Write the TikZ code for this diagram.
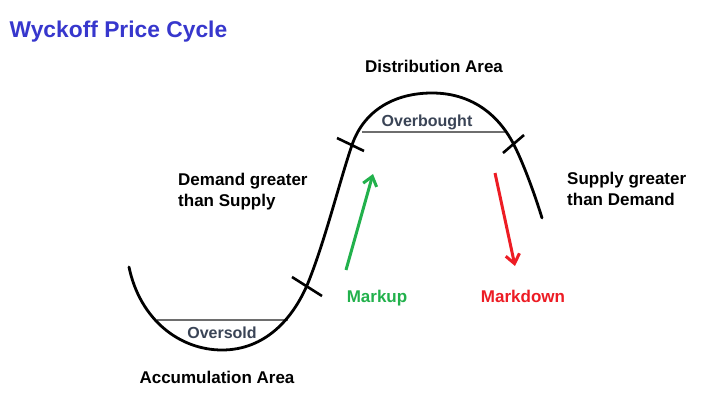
\documentclass[tikz,border=0pt]{standalone}
\usepackage{fontspec}
\setmainfont{Liberation Sans}
\usetikzlibrary{arrows.meta}
\definecolor{titleblue}{RGB}{55,55,205}
\definecolor{zonetext}{RGB}{58,68,86}
\definecolor{zoneline}{RGB}{110,110,110}
\definecolor{upgreen}{RGB}{34,177,76}
\definecolor{downred}{RGB}{237,28,36}
\tikzset{
  cycle/.style={line width=2.8pt, black},
  tick/.style={line width=2.6pt, black},
  zone/.style={line width=1.4pt, zoneline},
  lbl/.style={font=\bfseries\fontsize{17}{21}\selectfont, inner sep=0pt, text=black},
  zonelbl/.style={font=\bfseries\fontsize{16}{19}\selectfont, inner sep=0pt, text=zonetext},
  trend/.style={line width=3pt, -{Straight Barb[length=9pt,width=14pt,line width=3pt]}},
}
\begin{document}
\begin{tikzpicture}[x=1pt,y=-1pt]
\useasboundingbox (0,0) rectangle (702,401);
\fill[white] (0,0) rectangle (702,401);

% key points of the cycle
\coordinate (A) at (129,267);
\coordinate (B) at (222,350);
\coordinate (C) at (308,283);
\coordinate (D) at (352,145);
\coordinate (E) at (432,93);
\coordinate (F) at (513,143);
\coordinate (G) at (542,218);

% zone lines
\coordinate (os1) at (157,320);
\coordinate (os2) at (288,320);
\coordinate (ob1) at (362,132);
\coordinate (ob2) at (507,132);
\draw[zone] (os1) -- (os2);
\draw[zone] (ob1) -- (ob2);

% the cycle
\draw[cycle, line cap=round]
  (A) .. controls (140,320) and (180,350) .. (B)
      .. controls (265,350) and (293,319) .. (C)
      .. controls (325,241) and (340,180) .. (D)
      .. controls (364,110) and (395,93) .. (E)
      .. controls (470,93) and (497,113) .. (F)
      .. controls (523,162) and (535,195) .. (G);

% ticks
\coordinate (t1a) at (292,277);
\coordinate (t1b) at (322,296);
\coordinate (t2a) at (337,138);
\coordinate (t2b) at (364,151);
\coordinate (t3a) at (503,153);
\coordinate (t3b) at (524,135);
\draw[tick] (t1a) -- (t1b);
\draw[tick] (t2a) -- (t2b);
\draw[tick] (t3a) -- (t3b);

% arrows
\coordinate (mu1) at (346,270);
\coordinate (mu2) at (373,174);
\coordinate (md1) at (495,173);
\coordinate (md2) at (515,266);
\draw[trend, upgreen] (mu1) -- (mu2);
\draw[trend, downred] (md1) -- (md2);

% texts
\node[anchor=base west, inner sep=0pt, text=titleblue, font=\bfseries\fontsize{22.8}{27}\selectfont] (title) at (9.5,38) {Wyckoff Price Cycle};
\node[lbl, anchor=base] (dist) at (434,73) {Distribution Area};
\node[zonelbl, anchor=base] (ob) at (427,127) {Overbought};
\node[zonelbl, anchor=base] (os) at (222,338) {Oversold};
\node[lbl, anchor=base] (acc) at (217,383) {Accumulation Area};
\node[lbl, anchor=base, text=upgreen] (mu) at (377,302) {Markup};
\node[lbl, anchor=base, text=downred] (md) at (523,302) {Markdown};
\node[lbl, anchor=north west, align=left] (dem) at (178,172.5) {Demand greater\\than Supply};
\node[lbl, anchor=north west, align=left] (sup) at (567,171.5) {Supply greater\\than Demand};
\end{tikzpicture}
\end{document}
